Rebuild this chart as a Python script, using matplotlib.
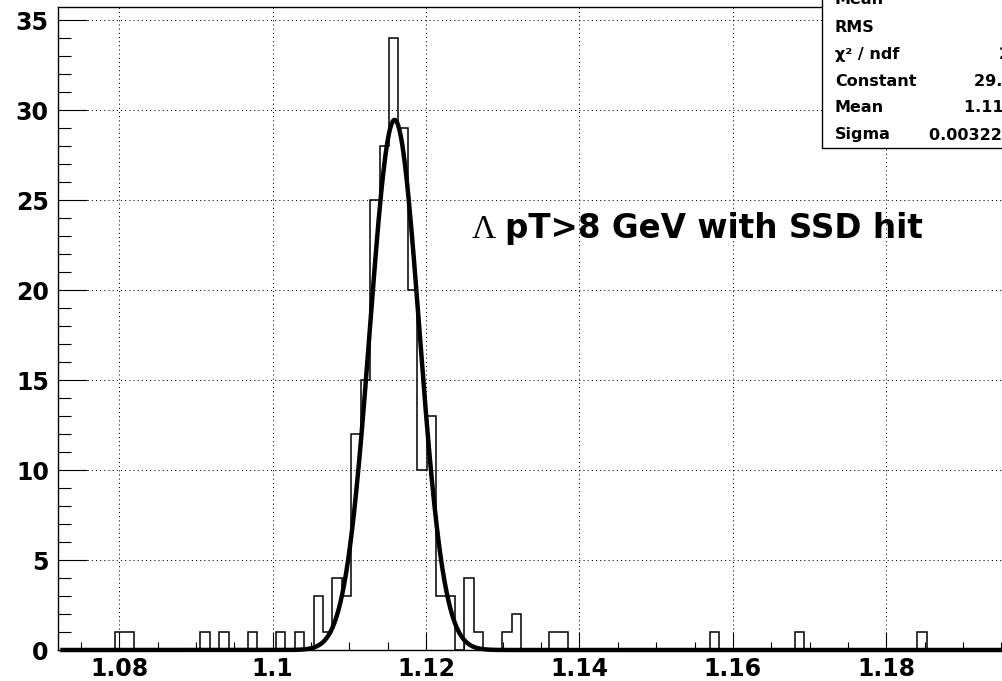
import numpy as np
import matplotlib
matplotlib.use("Agg")
import matplotlib.pyplot as plt
from matplotlib.patches import Rectangle
from matplotlib.ticker import MultipleLocator, FuncFormatter

plt.rcParams['font.family'] = ['DejaVu Sans']
plt.rcParams['font.weight'] = 'bold'

# histogram: lower edge of first bin, bin width, entries per bin
bin_lo = 1.0795
bin_w = 0.00123
counts = [
    1, 1, 0, 0, 0, 0, 0, 0, 0, 1,
    0, 1, 0, 0, 1, 0, 0, 1, 0, 1,
    0, 3, 1, 4, 3, 12, 15, 25, 28, 34,
    29, 20, 10, 13, 3, 3, 0, 4, 1, 0,
    0, 1, 2, 0, 0, 0, 1, 1, 0, 0,
    0, 0, 0, 0, 0, 0, 0, 0, 0, 0,
    0, 0, 0, 1, 0, 0, 0, 0, 0, 0,
    0, 0, 1, 0, 0, 0, 0, 0, 0, 0,
    0, 0, 0, 0, 0, 1, 0, 0, 0, 0,
    0, 0, 0, 0, 0, 0, 0, 0,
]

# gaussian fit
fit_const = 29.45
fit_mean = 1.1159
fit_sigma = 0.00322

x_range = (1.072, 1.2)
y_max = 35.7

# stats box
stat_labels = ["Mean", "RMS", "\u03c7\u00b2 / ndf", "Constant", "Mean", "Sigma"]
stat_values = ["1.117", "0.01171", "25.07 / 17", "29.45 \u00b1 3.01",
               "1.116 \u00b1 0.000", "0.00322 \u00b1 0.00024"]

W, H = 1003, 681
fig = plt.figure(figsize=(W / 100, H / 100), dpi=100)

def fx(px):
    return px / W

def fy(py):
    return 1 - py / H

# axes box in pixels: left 57.9, bottom 650, 7670 px per unit in x, 18 px per count
left_px, bottom_px = 57.9, 650
right_px = left_px + (x_range[1] - x_range[0]) * 7670
top_px = bottom_px - y_max * 18
ax = fig.add_axes([fx(left_px), fy(bottom_px),
                   (right_px - left_px) / W, (bottom_px - top_px) / H])

edges = bin_lo + bin_w * np.arange(len(counts) + 1)
ax.stairs(counts, edges, color='black', linewidth=1.1, zorder=3)

xs = np.linspace(x_range[0] + 0.0006, x_range[1], 1500)
ys = fit_const * np.exp(-0.5 * ((xs - fit_mean) / fit_sigma) ** 2)
ax.plot(xs, ys, color='black', linewidth=3.2, zorder=4, clip_on=False)

ax.set_xlim(*x_range)
ax.set_ylim(0, y_max)

ax.xaxis.set_major_locator(MultipleLocator(0.02))
ax.xaxis.set_minor_locator(MultipleLocator(0.005))
ax.yaxis.set_major_locator(MultipleLocator(5))
ax.yaxis.set_minor_locator(MultipleLocator(1))
ax.xaxis.set_major_formatter(FuncFormatter(lambda v, p: "%g" % round(v, 4)))
ax.yaxis.set_major_formatter(FuncFormatter(lambda v, p: "%g" % v))

ax.tick_params(axis='y', which='major', direction='in', length=21, width=0.8,
               pad=6.5, labelsize=17)
ax.tick_params(axis='y', which='minor', direction='in', length=9.5, width=0.8)
ax.tick_params(axis='x', which='major', direction='in', length=13, width=0.8,
               pad=5.0, labelsize=17)
ax.tick_params(axis='x', which='minor', direction='in', length=6, width=0.8)
ax.tick_params(top=False, right=False, which='both')

ax.grid(True, which='major', color='black', linestyle=(0, (1, 3)), linewidth=0.75)
ax.set_axisbelow(True)
for s in ax.spines.values():
    s.set_linewidth(1.0)

# label
txt_y = fy(238)
fig.text(fx(472), txt_y, "\u039b", family='Liberation Serif', fontweight='normal',
         fontsize=24, va='baseline')
fig.text(fx(505), txt_y, "pT>8 GeV with SSD hit", fontsize=23.5, va='baseline')

# stats box (cut by the right/top edge of the picture)
box_left, box_bottom = 822, 148
fig.add_artist(Rectangle((fx(box_left), fy(box_bottom)), (1020 - box_left) / W,
                         (box_bottom + 20) / H, transform=fig.transFigure,
                         facecolor='white', edgecolor='black', linewidth=1.0,
                         zorder=10))
row_y = [0, 27, 54, 81, 108, 135]
value_x = [1012, 1012, 999, 974, 964, 929]
for lab, val, yy, vx in zip(stat_labels, stat_values, row_y, value_x):
    fig.text(fx(835), fy(yy), lab, fontsize=11.5, va='center', zorder=11)
    fig.text(fx(vx), fy(yy), val, fontsize=11.5, va='center', zorder=11)

fig.savefig("out.png", dpi=100)
